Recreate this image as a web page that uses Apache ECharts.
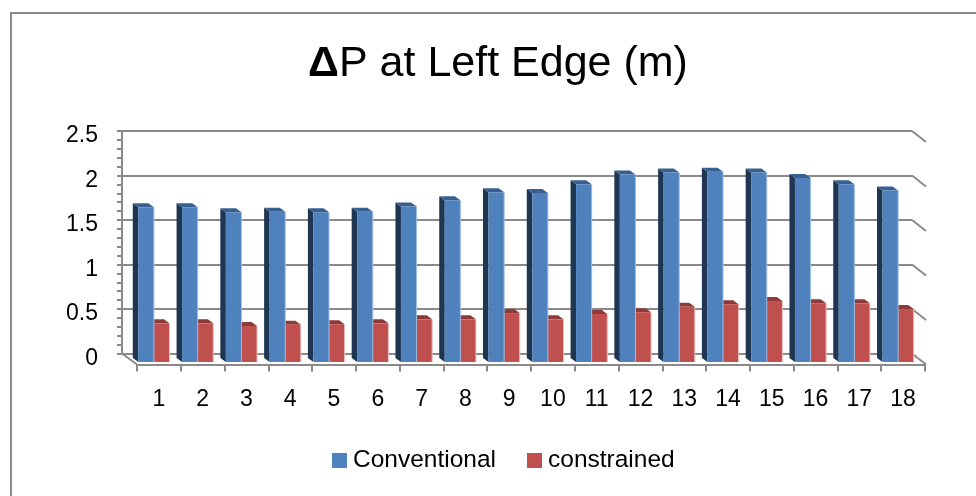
<!DOCTYPE html>
<html>
<head>
<meta charset="utf-8">
<style>
  html, body { margin: 0; padding: 0; background: #fff; }
  #chart { width: 976px; height: 496px; }
</style>
<script src="https://cdn.jsdelivr.net/npm/echarts@6/dist/echarts.min.js"></script>
</head>
<body>
<div id="chart"></div>
<script>
const categories = ["1", "2", "3", "4", "5", "6", "7", "8", "9", "10", "11", "12", "13", "14", "15", "16", "17", "18"];
const conventional = [1.74, 1.74, 1.685, 1.69, 1.685, 1.69, 1.75, 1.82, 1.91, 1.9, 2.0, 2.11, 2.13, 2.14, 2.13, 2.07, 2.0, 1.93];
const constrained = [0.435, 0.435, 0.405, 0.42, 0.425, 0.435, 0.48, 0.48, 0.55, 0.48, 0.54, 0.56, 0.62, 0.65, 0.685, 0.66, 0.66, 0.595];
const levels = [0, 0.5, 1, 1.5, 2, 2.5];

const FONT = '"Liberation Sans", Arial, sans-serif';
const LINE = "#8a8a8a";
const barW = 15.6;
const depth = [-5.5, -4];

// fake 3d bar: front face plus the visible top and left side
function bar3d(side, colors) {
    return function (params, api) {
        const c = api.coord([api.value(0), 0]);
        const t = api.coord([api.value(0), api.value(1)]);
        const x0 = side < 0 ? c[0] - barW : c[0];
        const x1 = x0 + barW;
        const [dx, dy] = depth;
        return {
            type: "group",
            children: [
                { type: "polygon", shape: { points: [[x0, t[1]], [x0 + dx, t[1] + dy], [x0 + dx, c[1] + dy], [x0, c[1]]] }, style: { fill: colors.side } },
                { type: "polygon", shape: { points: [[x0, t[1]], [x0 + dx, t[1] + dy], [x1 + dx, t[1] + dy], [x1, t[1]]] }, style: { fill: colors.top } },
                { type: "rect", shape: { x: x0, y: t[1], width: barW, height: c[1] - t[1] }, style: { fill: colors.front } },
                { type: "line", shape: { x1: x1, y1: t[1], x2: x1, y2: c[1] }, style: { stroke: colors.edge, lineWidth: 1 } }
            ]
        };
    };
}

// slanted pieces of the gridlines at the right wall and the floor
function wallItem(params, api) {
    const v = api.value(0);
    const r = api.coord([1, v]);
    const children = [
        { type: "line", shape: { x1: r[0], y1: r[1], x2: r[0] + 14, y2: r[1] + 11 }, style: { stroke: LINE, lineWidth: 2 } }
    ];
    if (v === 0) {
        const l = api.coord([0, v]);
        children.push({ type: "line", shape: { x1: l[0], y1: l[1], x2: l[0] + 15, y2: l[1] + 11 }, style: { stroke: LINE, lineWidth: 2 } });
    }
    return { type: "group", children: children };
}

const chart = echarts.init(document.getElementById("chart"));
chart.setOption({
    animation: false,
    backgroundColor: "#fff",
    graphic: [{
        type: "polyline",
        shape: { points: [[11, 496], [11, 13], [976, 13]] },
        style: { stroke: LINE, lineWidth: 2, fill: null },
        silent: true
    }],
    title: {
        text: "{d|Δ}P at Left Edge (m)",
        left: 493,
        top: 38,
        textAlign: "center",
        textStyle: {
            fontFamily: FONT,
            fontSize: 43,
            fontWeight: "normal",
            color: "#000",
            rich: {
                d: { fontFamily: FONT, fontSize: 43, fontWeight: "bold", color: "#000" }
            }
        }
    },
    legend: {
        data: ["Conventional", "constrained"],
        left: 332,
        top: 448,
        padding: 0,
        itemWidth: 15,
        itemHeight: 15,
        itemGap: 31,
        icon: "rect",
        textStyle: { fontFamily: FONT, fontSize: 24.5, color: "#000", padding: [0, 0, 0, 1] }
    },
    grid: [
        { left: 122, top: 131, width: 790, height: 222.5 },
        { left: 137, top: 142, width: 788, height: 222.5 },
        { left: 132, top: 139.7, width: 788, height: 222.3 }
    ],
    xAxis: [
        { gridIndex: 0, type: "value", min: 0, max: 1, show: false },
        {
            gridIndex: 1,
            type: "category",
            data: categories,
            axisLine: { lineStyle: { color: LINE, width: 2 } },
            axisTick: { show: true, length: 7, lineStyle: { color: LINE, width: 2 }, alignWithLabel: false },
            axisLabel: { fontFamily: FONT, fontSize: 23, color: "#000", margin: 24, interval: 0 }
        },
        { gridIndex: 2, type: "category", data: categories, show: false }
    ],
    yAxis: [
        {
            gridIndex: 0,
            type: "value",
            min: 0,
            max: 2.5,
            interval: 0.5,
            axisLine: { show: true, lineStyle: { color: LINE, width: 2 } },
            axisTick: { show: true, length: 5, lineStyle: { color: LINE, width: 2 } },
            minorTick: { show: true, splitNumber: 5, length: 5, lineStyle: { color: LINE, width: 2 } },
            splitLine: { show: true, lineStyle: { color: LINE, width: 2 } },
            axisLabel: { fontFamily: FONT, fontSize: 23, color: "#000", margin: 24, verticalAlign: "top", lineHeight: 10 }
        },
        { gridIndex: 1, type: "value", min: 0, max: 2.5, show: false },
        { gridIndex: 2, type: "value", min: 0, max: 2.5, show: false }
    ],
    series: [
        {
            name: "wall",
            type: "custom",
            xAxisIndex: 0,
            yAxisIndex: 0,
            coordinateSystem: "cartesian2d",
            renderItem: wallItem,
            encode: { y: 0 },
            data: levels.map((v) => [v]),
            clip: false,
            silent: true,
            z: 1
        },
        {
            name: "constrained",
            type: "custom",
            xAxisIndex: 2,
            yAxisIndex: 2,
            itemStyle: { color: "#c0504d" },
            renderItem: bar3d(1, { front: "#c0504d", top: "#8e3a38", side: "#8e3a38", edge: "#e8c0be" }),
            encode: { x: 0, y: 1 },
            data: constrained.map((v, i) => [i, v]),
            clip: false,
            silent: true,
            z: 3
        },
        {
            name: "Conventional",
            type: "custom",
            xAxisIndex: 2,
            yAxisIndex: 2,
            itemStyle: { color: "#4f81bd" },
            renderItem: bar3d(-1, { front: "#4f81bd", top: "#38608f", side: "#1f3653", edge: "#9dbde6" }),
            encode: { x: 0, y: 1 },
            data: conventional.map((v, i) => [i, v]),
            clip: false,
            silent: true,
            z: 4
        }
    ]
});
</script>
</body>
</html>
